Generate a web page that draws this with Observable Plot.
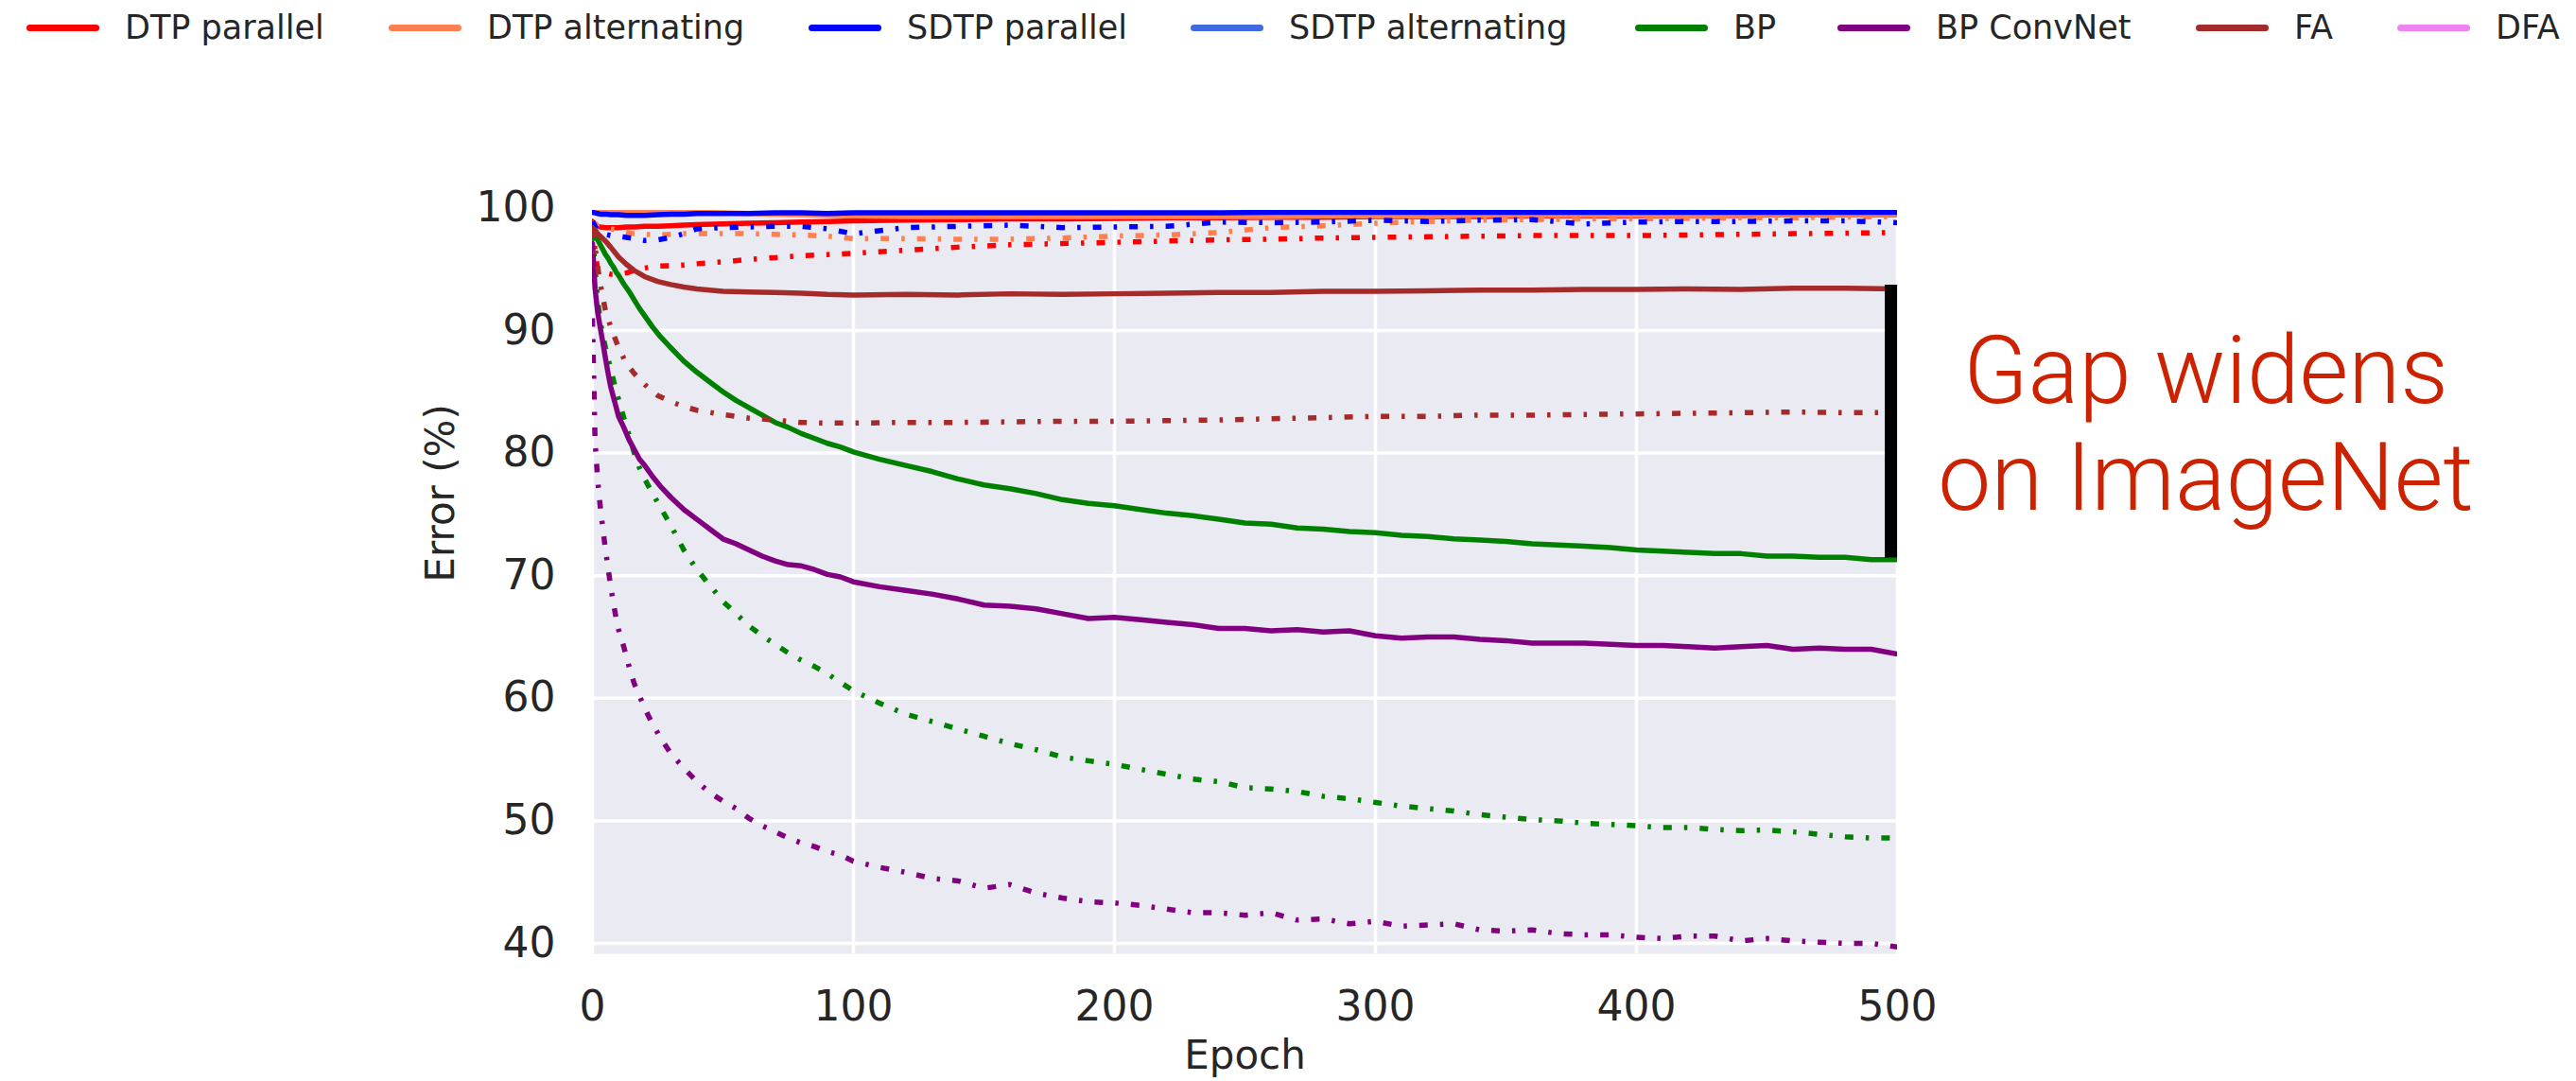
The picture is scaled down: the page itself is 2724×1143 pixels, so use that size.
<!DOCTYPE html>
<html>
<head>
<meta charset="utf-8">
<script src="https://cdn.jsdelivr.net/npm/d3@7"></script>
<script src="https://cdn.jsdelivr.net/npm/@observablehq/plot@0.6"></script>
<style>
  html, body { margin: 0; padding: 0; background: #ffffff; }
  #wrap { width: 2724px; height: 1143px; overflow: hidden; font-family: "DejaVu Sans", sans-serif; color: #262626; }
  #legend { position: relative; height: 58px; white-space: nowrap; }
  .item { position: absolute; top: 0; height: 58px; display: flex; align-items: center; font-size: 35px; }
  .swatch { width: 77px; height: 7px; border-radius: 3.5px; margin-right: 27px; }
</style>
</head>
<body>
<div id="wrap">
  <div id="legend"></div>
  <div id="chart"></div>
</div>
<script>
// ---------- data ----------
const methods = ["DTP parallel", "DTP alternating", "SDTP parallel", "SDTP alternating", "BP", "BP ConvNet", "FA", "DFA"];
const methodColors = ["#ff0000", "#ff7f50", "#0000ff", "#4169e1", "#008000", "#800080", "#a52a2a", "#ee82ee"];

const xTicks = [0, 100, 200, 300, 400, 500];
const yTicks = [40, 50, 60, 70, 80, 90, 100];

const epochsFine = [0,1,2,3,4,5,6,7,8,9,10,12,14,16,18,20,23,26,30,35,40,45,50,55,60,65,70,75,80,85,90,95,100,
  110,120,130,140,150,160,170,180,190,200,210,220,230,240,250,260,270,280,290,300,
  310,320,330,340,350,360,370,380,390,400,410,420,430,440,450,460,470,480,490,500];
const epochsCoarse = [0,1,2,3,5,7,10,13,16,20,25,30,35,40,50,60,70,80,90,100,
  120,140,160,180,200,220,240,260,280,300,320,340,360,380,400,420,440,460,480,500];

// test error (solid) and train error (dash-dot)
const dtpParallelTest = [98.9,98.7,98.5,98.45,98.4,98.4,98.4,98.45,98.45,98.5,
  98.5,98.55,98.6,98.65,98.7,98.75,98.8,98.85,98.9,98.95,
  99.0,99.05,99.1,99.1,99.15,99.2,99.2,99.25,99.25,99.3,
  99.3,99.3,99.35,99.35,99.35,99.4,99.4,99.45,99.45,99.45];
const dtpParallelTrain = [98.6,96.5,95.0,94.8,94.7,94.6,94.6,94.7,94.9,95.1,
  95.25,95.3,95.35,95.45,95.6,95.8,95.95,96.1,96.2,96.3,
  96.55,96.8,97.0,97.1,97.2,97.3,97.4,97.45,97.55,97.6,
  97.65,97.7,97.75,97.75,97.75,97.8,97.85,97.9,97.95,98.0];
const dtpAltTest = [99.8,99.8,99.75,99.75,99.75,99.75,99.75,99.7,99.7,99.7,
  99.7,99.7,99.7,99.65,99.6,99.55,99.5,99.45,99.4,99.35,
  99.3,99.3,99.3,99.3,99.3,99.3,99.3,99.3,99.35,99.35,
  99.35,99.4,99.4,99.4,99.4,99.4,99.45,99.45,99.45,99.45];
const dtpAltTrain = [98.9,98.7,98.5,98.4,98.3,98.3,98.2,98.0,97.9,97.85,
  97.8,97.85,97.9,97.9,97.9,97.9,97.85,97.8,97.7,97.5,
  97.5,97.45,97.45,97.55,97.7,97.8,98.0,98.4,98.55,98.75,
  98.9,99.0,99.05,99.1,99.1,99.15,99.2,99.2,99.25,99.3];
const sdtpParallelTest = [99.65,99.6,99.55,99.5,99.5,99.45,99.45,99.4,99.4,99.4,
  99.45,99.5,99.5,99.55,99.55,99.55,99.6,99.6,99.55,99.6,
  99.6,99.6,99.6,99.6,99.6,99.6,99.6,99.65,99.65,99.65,
  99.65,99.65,99.65,99.65,99.65,99.65,99.65,99.65,99.65,99.65];
const sdtpParallelTrain = [98.9,98.5,98.2,98.0,97.85,97.75,97.7,97.6,97.5,97.35,
  97.4,97.6,97.9,98.3,98.4,98.45,98.5,98.5,98.3,97.9,
  98.4,98.5,98.6,98.4,98.45,98.5,98.85,98.8,98.85,99.0,
  98.9,99.0,99.05,98.7,98.85,98.9,98.9,98.95,98.95,98.8];
const bpTest = [98.2,97.8,97.4,97.0,96.6,96.2,95.9,95.5,95.2,94.8,94.5,93.8,93.2,92.5,91.8,91.2,90.3,89.5,88.6,87.5,86.6,85.8,85.0,84.3,83.7,83.1,82.5,82.1,81.6,81.2,80.8,80.5,80.1,
  79.5,79.0,78.5,77.9,77.4,77.1,76.7,76.2,75.9,75.7,
  75.4,75.1,74.9,74.6,74.3,74.2,73.9,73.8,73.6,73.5,
  73.3,73.2,73.0,72.9,72.8,72.6,72.5,72.4,72.3,72.1,
  72.0,71.9,71.8,71.8,71.6,71.6,71.5,71.5,71.3,71.3];
const bpTrain = [98.0,95.0,92.5,90.7,89.6,88.6,87.7,86.8,86.0,85.1,84.4,82.9,81.5,80.0,78.8,77.9,76.7,75.6,74.1,72.1,70.5,69.2,67.9,66.9,65.9,65.1,64.4,63.7,63.1,62.6,62.0,61.3,60.6,
  59.6,58.7,58.1,57.5,56.9,56.3,55.8,55.2,54.9,54.6,
  54.2,53.8,53.4,53.2,52.7,52.6,52.4,52.0,51.8,51.5,
  51.2,51.0,50.8,50.5,50.3,50.1,50.0,49.8,49.7,49.6,
  49.45,49.45,49.3,49.2,49.25,49.1,48.9,48.7,48.6,48.6];
const convTest = [97.1,93.4,91.5,90.2,89.0,87.7,86.5,85.4,84.6,83.8,83.0,82.1,81.1,80.3,79.5,79.0,78.1,77.3,76.4,75.4,74.6,73.8,73.0,72.6,72.1,71.6,71.2,70.9,70.8,70.5,70.1,69.9,69.5,
  69.1,68.8,68.5,68.1,67.6,67.5,67.3,66.9,66.5,66.6,
  66.4,66.2,66.0,65.7,65.7,65.5,65.6,65.4,65.5,65.1,
  64.9,65.0,65.0,64.8,64.7,64.5,64.5,64.5,64.4,64.3,
  64.3,64.2,64.1,64.2,64.3,64.0,64.1,64.0,64.0,63.6];
const convTrain = [91.0,81.0,77.8,75.6,73.8,72.1,70.6,69.1,67.8,66.6,65.6,64.2,62.6,61.2,60.2,59.2,57.9,56.8,55.5,54.3,53.2,52.3,51.6,51.0,50.2,49.6,49.1,48.6,48.2,47.9,47.5,47.2,46.7,
  46.2,45.8,45.3,45.1,44.5,44.8,44.1,43.7,43.4,43.3,
  43.1,42.8,42.5,42.5,42.3,42.5,41.9,42.0,41.6,41.8,
  41.4,41.5,41.6,41.1,41.0,41.1,40.8,40.7,40.7,40.5,
  40.4,40.6,40.6,40.2,40.4,40.2,40.1,40.0,40.0,39.7];
const faTest = [98.4,98.2,97.9,97.7,97.3,96.8,96.0,95.4,94.9,94.4,
  94.0,93.75,93.55,93.4,93.2,93.15,93.1,93.05,92.95,92.9,
  92.95,92.9,93.0,92.95,93.0,93.05,93.1,93.1,93.2,93.2,
  93.25,93.3,93.3,93.35,93.35,93.4,93.35,93.45,93.45,93.4];
const faTrain = [98.2,96.8,95.2,93.8,91.6,90.3,88.6,87.3,86.5,85.6,
  84.7,84.2,83.8,83.5,83.15,82.85,82.7,82.5,82.45,82.45,
  82.5,82.5,82.55,82.6,82.6,82.65,82.7,82.8,82.9,83.0,
  83.0,83.1,83.1,83.15,83.2,83.25,83.3,83.35,83.3,83.3];

// annotation: gap between FA and BP at the end of training
const gapMarker = [{epoch: 497.5, low: 71.45, high: 93.7}];
const annotation = ["Gap widens\non ImageNet"];

// legend layout (left edge of each legend entry, px)
const legendLeft = [28, 411, 855, 1259, 1729, 1943, 2322, 2535];

// ---------- build ----------
const series = [
  {method: "DTP parallel", split: "test", epochs: epochsCoarse, values: dtpParallelTest},
  {method: "DTP parallel", split: "train", epochs: epochsCoarse, values: dtpParallelTrain},
  {method: "DTP alternating", split: "test", epochs: epochsCoarse, values: dtpAltTest},
  {method: "DTP alternating", split: "train", epochs: epochsCoarse, values: dtpAltTrain},
  {method: "SDTP parallel", split: "test", epochs: epochsCoarse, values: sdtpParallelTest},
  {method: "SDTP parallel", split: "train", epochs: epochsCoarse, values: sdtpParallelTrain},
  {method: "BP", split: "test", epochs: epochsFine, values: bpTest},
  {method: "BP", split: "train", epochs: epochsFine, values: bpTrain},
  {method: "BP ConvNet", split: "test", epochs: epochsFine, values: convTest},
  {method: "BP ConvNet", split: "train", epochs: epochsFine, values: convTrain},
  {method: "FA", split: "test", epochs: epochsCoarse, values: faTest},
  {method: "FA", split: "train", epochs: epochsCoarse, values: faTrain}
];
const colorOf = m => methodColors[methods.indexOf(m)];

const lineMarks = series.map(s => {
  const rows = s.epochs.map((e, i) => ({epoch: e, error: s.values[i]}));
  const opts = {x: "epoch", y: "error", stroke: colorOf(s.method), strokeWidth: 5.5, clip: true, strokeLinejoin: "round"};
  if (s.split === "train") { opts.strokeDasharray = "9,13,3.5,13"; opts.strokeLinecap = "butt"; }
  return Plot.line(rows, opts);
});

// legend
const legend = document.getElementById("legend");
methods.forEach((m, i) => {
  const it = document.createElement("div");
  it.className = "item";
  it.style.left = legendLeft[i] + "px";
  const sw = document.createElement("span");
  sw.className = "swatch";
  sw.style.background = methodColors[i];
  const tx = document.createElement("span");
  tx.textContent = m;
  it.appendChild(sw); it.appendChild(tx);
  legend.appendChild(it);
});

const chart = Plot.plot({
  width: 2724,
  height: 1085,
  marginTop: 164,
  marginBottom: 135,
  marginLeft: 626,
  marginRight: 718,
  style: {fontFamily: "DejaVu Sans", color: "#262626", background: "#ffffff", overflow: "visible"},
  x: {domain: [0, 500]},
  y: {domain: [39.15, 99.8]},
  marks: [
    Plot.frame({fill: "#EAEAF2"}),
    Plot.gridX(xTicks, {stroke: "#ffffff", strokeOpacity: 1, strokeWidth: 3.5}),
    Plot.gridY(yTicks, {stroke: "#ffffff", strokeOpacity: 1, strokeWidth: 3.5}),
    Plot.axisX(xTicks, {tickSize: 0, tickPadding: 39, fontSize: 44, label: null}),
    Plot.axisY(yTicks, {tickSize: 0, tickPadding: 39, fontSize: 44, label: null}),
    ...lineMarks,
    Plot.ruleX(gapMarker, {x: "epoch", y1: "low", y2: "high", stroke: "#000000", strokeWidth: 13}),
    Plot.text(["Error (%)"], {frameAnchor: "left", dx: -160, rotate: -90, fontSize: 42, fill: "#262626"}),
    Plot.text(["Epoch"], {frameAnchor: "bottom", dy: 121, fontSize: 42, fill: "#262626"}),
    Plot.text(annotation, {frameAnchor: "top-right", dx: 326, dy: 124, lineAnchor: "top", textAnchor: "middle",
      fontSize: 100, lineHeight: 1.125, fontFamily: "Roboto", fontWeight: 300, fill: "#cc2200"})
  ]
});
document.getElementById("chart").appendChild(chart);
</script>
</body>
</html>
